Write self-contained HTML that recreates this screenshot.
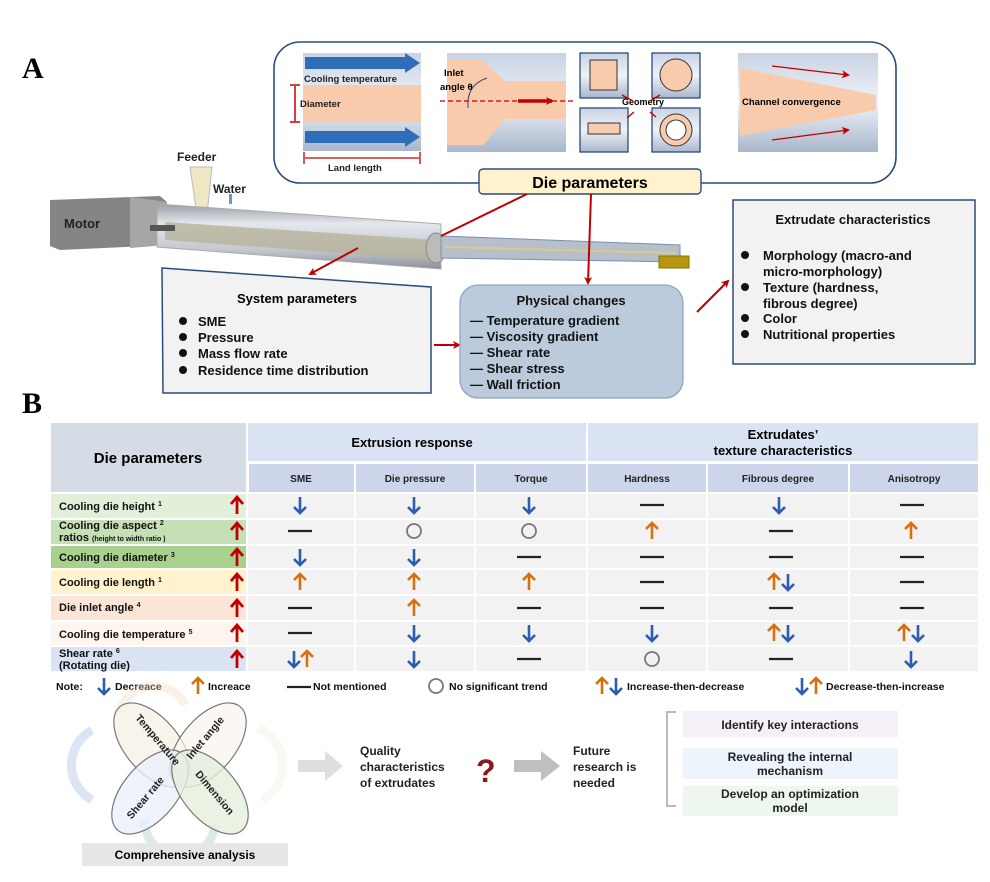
<!DOCTYPE html>
<html><head><meta charset="utf-8"><style>
body{margin:0;background:#fff}
svg{display:block;font-family:"Liberation Sans",sans-serif}
.b{font-weight:bold}
</style></head><body>
<svg width="990" height="882" viewBox="0 0 990 882" xmlns="http://www.w3.org/2000/svg">
<defs>
<linearGradient id="gp" x1="0" y1="0" x2="0" y2="1"><stop offset="0" stop-color="#c9d3e3"/><stop offset="0.5" stop-color="#eef2f8"/><stop offset="1" stop-color="#a9b7cc"/></linearGradient>
<linearGradient id="bar" x1="0" y1="0" x2="0" y2="1"><stop offset="0" stop-color="#9aa0a8"/><stop offset="0.3" stop-color="#e4e7ec"/><stop offset="0.7" stop-color="#c4c8cf"/><stop offset="1" stop-color="#8c9199"/></linearGradient>
<marker id="ar" markerWidth="8" markerHeight="8" refX="6" refY="4" orient="auto" markerUnits="userSpaceOnUse"><path d="M0,0 L8,4 L0,8 L2,4z" fill="#c00000"/></marker>
<g id="dn"><path d="M0,-8 V7 M-6,2 L0,8 L6,2" stroke="#2e5caf" stroke-width="2.6" fill="none"/></g>
<g id="up"><path d="M0,8 V-7 M-6,-2 L0,-8 L6,-2" stroke="#d5700f" stroke-width="2.6" fill="none"/></g>
<g id="ru"><path d="M0,9 V-7 M-6,-1 L0,-8 L6,-1" stroke="#c00000" stroke-width="2.8" fill="none"/></g>
<g id="ln"><path d="M-12,0 H12" stroke="#222" stroke-width="2.2"/></g>
<g id="ci"><circle r="7" fill="none" stroke="#777" stroke-width="1.8"/></g>
</defs>

<text x="22" y="78" font-family="Liberation Serif" font-size="30" font-weight="bold">A</text>

<rect x="274" y="42" width="622" height="141" rx="26" fill="#fff" stroke="#2f4a7a" stroke-width="1.6"/>
<rect x="303" y="53" width="118" height="98" fill="url(#gp)"/>
<rect x="303" y="85" width="118" height="37" fill="#f8cbad"/>
<path d="M305,57 H405 V53 L420,63 L405,73 V69 H305z" fill="#2e6db7"/>
<path d="M305,131 H405 V127 L420,137 L405,147 V143 H305z" fill="#2e6db7"/>
<text x="304" y="82" font-size="9.5" class="b" fill="#222">Cooling temperature</text>
<text x="300" y="107" font-size="9.5" class="b" fill="#222">Diameter</text>
<path d="M290,85 H300 M290,122 H300 M295,86 V121" stroke="#c00000" stroke-width="1.5"/>
<path d="M304,152 V164 M420,152 V164 M305,158 H419" stroke="#c00000" stroke-width="1.3"/>
<text x="328" y="171" font-size="9.5" class="b" fill="#222">Land length</text>
<rect x="447" y="53" width="119" height="99" fill="url(#gp)"/>
<path d="M447,60 H483 L505,81 H566 V119 H505 L483,145 H447z" fill="#f8cbad"/>
<path d="M487,78 Q466,85 468,108" stroke="#2f4a7a" fill="none" stroke-width="1"/>
<text x="444" y="76" font-size="9.5" class="b">Inlet</text>
<text x="440" y="90" font-size="9.5" class="b">angle θ</text>
<path d="M440,101 H575" stroke="#c00000" stroke-dasharray="5,3" stroke-width="1.2"/>
<path d="M518,101 H552" stroke="#c00000" stroke-width="3.5" marker-end="url(#ar)"/>
<rect x="580" y="53" width="48" height="45" fill="url(#gp)" stroke="#2f4a7a" stroke-width="1.3"/>
<rect x="590" y="60" width="27" height="30" fill="#f8cbad" stroke="#333"/>
<rect x="652" y="53" width="48" height="45" fill="url(#gp)" stroke="#2f4a7a" stroke-width="1.3"/>
<circle cx="676" cy="75" r="16" fill="#f8cbad" stroke="#333"/>
<rect x="580" y="108" width="48" height="44" fill="url(#gp)" stroke="#2f4a7a" stroke-width="1.3"/>
<rect x="588" y="123" width="32" height="11" fill="#f8cbad" stroke="#333"/>
<rect x="652" y="108" width="48" height="44" fill="url(#gp)" stroke="#2f4a7a" stroke-width="1.3"/>
<circle cx="676" cy="130" r="16" fill="#f8cbad" stroke="#333"/><circle cx="676" cy="130" r="10" fill="#fff" stroke="#333"/>
<text x="622" y="105" font-size="9" class="b">Geometry</text>
<path d="M622,95 L633,101 M660,95 L650,101 M627,118 L634,112 M656,117 L650,112" stroke="#c00000" stroke-width="1.4"/>
<rect x="738" y="53" width="140" height="99" fill="url(#gp)"/>
<path d="M740,68 L876,95 V110 L740,136z" fill="#f8cbad"/>
<text x="742" y="105" font-size="9.5" class="b">Channel convergence</text>
<path d="M772,66 L848,75" stroke="#c00000" stroke-width="1.3" marker-end="url(#ar)"/>
<path d="M772,140 L848,130" stroke="#c00000" stroke-width="1.3" marker-end="url(#ar)"/>
<rect x="479" y="169" width="222" height="25" rx="4" fill="#fff2cc" stroke="#2f4a7a" stroke-width="1.4"/>
<text x="590" y="188" font-size="16" class="b" text-anchor="middle">Die parameters</text>

<text x="177" y="161" font-size="12" class="b" fill="#222">Feeder</text>
<text x="213" y="193" font-size="12" class="b" fill="#222">Water</text>
<path d="M190,167 L212,167 L207,215 L197,215z" fill="#efe6c4" stroke="#bbb"/>
<rect x="229" y="194" width="3" height="10" fill="#6f96c9"/>
<path d="M50,200 L160,196 L167,202 V245 L60,250 L50,246z" fill="#858585"/>
<path d="M130,197 L167,202 V245 L130,248z" fill="#a6a6a6"/>
<text x="64" y="228" font-size="13" class="b" fill="#222">Motor</text>
<path d="M157,204 L441,224 L441,269 L157,247z" fill="url(#bar)" stroke="#aaa"/>
<path d="M165,222 L437,240 L437,260 L165,240z" fill="#b6b39b" opacity="0.8"/>
<path d="M150,228 H175" stroke="#555" stroke-width="6"/>
<ellipse cx="436" cy="248" rx="10" ry="15" fill="#bbb" stroke="#888"/>
<path d="M441,236 L680,245 L680,262 L441,258z" fill="#b7bfcb" stroke="#7d8fb0"/>
<path d="M445,247 L676,253" stroke="#d8cc88" stroke-width="2"/>
<rect x="659" y="256" width="30" height="12" fill="#b8960d" stroke="#8a7000"/>

<path d="M527,194 L441,236" stroke="#c00000" stroke-width="2"/>
<path d="M358,248 L310,274" stroke="#c00000" stroke-width="2" marker-end="url(#ar)"/>
<path d="M591,194 L588,283" stroke="#c00000" stroke-width="2" marker-end="url(#ar)"/>
<path d="M434,345 L459,345" stroke="#c00000" stroke-width="2" marker-end="url(#ar)"/>
<path d="M697,312 L728,281" stroke="#c00000" stroke-width="2" marker-end="url(#ar)"/>

<path d="M162,268 L431,287 V393 H163z" fill="#f2f2f2" stroke="#2f4a7a" stroke-width="1.5"/>
<text x="297" y="303" font-size="13" class="b" text-anchor="middle">System parameters</text>
<g font-size="13" class="b" fill="#111">
<circle cx="183" cy="321" r="4"/><text x="198" y="326">SME</text>
<circle cx="183" cy="337" r="4"/><text x="198" y="342">Pressure</text>
<circle cx="183" cy="353" r="4"/><text x="198" y="358">Mass flow rate</text>
<circle cx="183" cy="370" r="4"/><text x="198" y="375">Residence time distribution</text>
</g>
<rect x="460" y="285" width="223" height="113" rx="18" fill="#bccbdc" stroke="#8fa4bf" stroke-width="1.3"/>
<g font-size="13" class="b" fill="#111">
<text x="571" y="305" text-anchor="middle">Physical changes</text>
<text x="470" y="325">— Temperature gradient</text>
<text x="470" y="341">— Viscosity gradient</text>
<text x="470" y="357">— Shear rate</text>
<text x="470" y="373">— Shear stress</text>
<text x="470" y="389">— Wall friction</text>
</g>
<rect x="733" y="200" width="242" height="164" fill="#f2f2f2" stroke="#2f4a7a" stroke-width="1.5"/>
<g font-size="13" class="b" fill="#111">
<text x="853" y="224" text-anchor="middle">Extrudate characteristics</text>
<circle cx="745" cy="255" r="4"/><text x="763" y="260">Morphology (macro-and</text>
<text x="763" y="276">micro-morphology)</text>
<circle cx="745" cy="287" r="4"/><text x="763" y="292">Texture (hardness,</text>
<text x="763" y="308">fibrous degree)</text>
<circle cx="745" cy="318" r="4"/><text x="763" y="323">Color</text>
<circle cx="745" cy="334" r="4"/><text x="763" y="339">Nutritional properties</text>
</g>

<text x="22" y="413" font-family="Liberation Serif" font-size="30" font-weight="bold">B</text>

<rect x="51" y="423" width="195" height="69" fill="#d6dce5"/>
<text x="148" y="463" font-size="15" class="b" text-anchor="middle">Die parameters</text>
<rect x="248" y="423" width="338" height="38" fill="#dae3f3"/>
<rect x="588" y="423" width="390" height="38" fill="#dae3f3"/>
<text x="412" y="447" font-size="13" class="b" text-anchor="middle">Extrusion response</text>
<text x="783" y="439" font-size="13" class="b" text-anchor="middle">Extrudates’</text>
<text x="783" y="455" font-size="13" class="b" text-anchor="middle">texture characteristics</text>
<g fill="#cdd5ea">
<rect x="249" y="464" width="105" height="28"/><rect x="356" y="464" width="118" height="28"/><rect x="476" y="464" width="110" height="28"/>
<rect x="588" y="464" width="118" height="28"/><rect x="708" y="464" width="140" height="28"/><rect x="850" y="464" width="128" height="28"/>
</g>
<g font-size="10" class="b" text-anchor="middle" fill="#222">
<text x="301" y="482">SME</text><text x="415" y="482">Die pressure</text><text x="531" y="482">Torque</text>
<text x="647" y="482">Hardness</text><text x="778" y="482">Fibrous degree</text><text x="914" y="482">Anisotropy</text>
</g>
<g>
<rect x="51" y="494" width="195" height="24" fill="#e2f0d9"/>
<rect x="51" y="520" width="195" height="24" fill="#c5e0b4"/>
<rect x="51" y="546" width="195" height="22" fill="#a9d18e"/>
<rect x="51" y="570" width="195" height="24" fill="#fff2cc"/>
<rect x="51" y="596" width="195" height="24" fill="#fbe5d6"/>
<rect x="51" y="622" width="195" height="23" fill="#fdf5ee"/>
<rect x="51" y="647" width="195" height="24" fill="#dae3f3"/>
</g>
<g fill="#f2f2f2">
<rect x="248" y="494" width="730" height="24"/><rect x="248" y="520" width="730" height="24"/>
<rect x="248" y="546" width="730" height="22"/><rect x="248" y="570" width="730" height="24"/>
<rect x="248" y="596" width="730" height="24"/><rect x="248" y="622" width="730" height="23"/>
<rect x="248" y="647" width="730" height="24"/>
</g>
<g stroke="#fff" stroke-width="2">
<path d="M355,494 V671 M475,494 V671 M587,494 V671 M707,494 V671 M849,494 V671"/>
</g>
<g font-size="11" class="b" fill="#111">
<text x="59" y="510">Cooling die height <tspan font-size="7" dy="-4">1</tspan></text>
<text x="59" y="529">Cooling die aspect <tspan font-size="7" dy="-4">2</tspan></text>
<text x="59" y="541">ratios <tspan font-size="7">(height to width ratio )</tspan></text>
<text x="59" y="561">Cooling die diameter <tspan font-size="7" dy="-4">3</tspan></text>
<text x="59" y="586">Cooling die length <tspan font-size="7" dy="-4">1</tspan></text>
<text x="59" y="611">Die inlet angle <tspan font-size="7" dy="-4">4</tspan></text>
<text x="59" y="638">Cooling die temperature <tspan font-size="7" dy="-4">5</tspan></text>
<text x="59" y="657">Shear rate <tspan font-size="7" dy="-4">6</tspan></text>
<text x="59" y="669">(Rotating die)</text>
</g>
<g>
<use href="#ru" x="237" y="505"/><use href="#ru" x="237" y="531"/><use href="#ru" x="237" y="557"/>
<use href="#ru" x="237" y="582"/><use href="#ru" x="237" y="608"/><use href="#ru" x="237" y="633"/><use href="#ru" x="237" y="659"/>
</g>
<g>
<use href="#dn" x="300" y="505"/><use href="#dn" x="414" y="505"/><use href="#dn" x="529" y="505"/><use href="#ln" x="652" y="505"/><use href="#dn" x="779" y="505"/><use href="#ln" x="912" y="505"/>
<use href="#ln" x="300" y="531"/><use href="#ci" x="414" y="531"/><use href="#ci" x="529" y="531"/><use href="#up" x="652" y="531"/><use href="#ln" x="781" y="531"/><use href="#up" x="911" y="531"/>
<use href="#dn" x="300" y="557"/><use href="#dn" x="414" y="557"/><use href="#ln" x="529" y="557"/><use href="#ln" x="652" y="557"/><use href="#ln" x="781" y="557"/><use href="#ln" x="912" y="557"/>
<use href="#up" x="300" y="582"/><use href="#up" x="414" y="582"/><use href="#up" x="529" y="582"/><use href="#ln" x="652" y="582"/><use href="#up" x="774" y="582"/><use href="#dn" x="788" y="582"/><use href="#ln" x="912" y="582"/>
<use href="#ln" x="300" y="608"/><use href="#up" x="414" y="608"/><use href="#ln" x="529" y="608"/><use href="#ln" x="652" y="608"/><use href="#ln" x="781" y="608"/><use href="#ln" x="912" y="608"/>
<use href="#ln" x="300" y="633"/><use href="#dn" x="414" y="633"/><use href="#dn" x="529" y="633"/><use href="#dn" x="652" y="633"/><use href="#up" x="774" y="633"/><use href="#dn" x="788" y="633"/><use href="#up" x="904" y="633"/><use href="#dn" x="918" y="633"/>
<use href="#dn" x="294" y="659"/><use href="#up" x="307" y="659"/><use href="#dn" x="414" y="659"/><use href="#ln" x="529" y="659"/><use href="#ci" x="652" y="659"/><use href="#ln" x="781" y="659"/><use href="#dn" x="911" y="659"/>
</g>
<g font-size="10.5" class="b" fill="#111">
<text x="56" y="690">Note:</text>
<use href="#dn" x="104" y="686"/><text x="115" y="690">Decreace</text>
<use href="#up" x="198" y="686"/><text x="208" y="690">Increace</text>
<use href="#ln" x="299" y="687"/><text x="313" y="690">Not mentioned</text>
<use href="#ci" x="436" y="686"/><text x="449" y="690">No significant trend</text>
<use href="#up" x="602" y="686"/><use href="#dn" x="616" y="686"/><text x="627" y="690">Increase-then-decrease</text>
<use href="#dn" x="802" y="686"/><use href="#up" x="816" y="686"/><text x="826" y="690">Decrease-then-increase</text>
</g>

<g fill="none" stroke-width="9" opacity="0.35">
<path d="M120,712 A35,35 0 0 1 185,705" stroke="#f3d9c3"/>
<path d="M92,800 A40,40 0 0 1 92,730" stroke="#9fb3e0"/>
<path d="M145,818 A35,35 0 0 0 215,825" stroke="#9fc5c0"/>
<path d="M258,728 A40,40 0 0 1 262,800" stroke="#e9eddb"/>
</g>
<g stroke="#777" stroke-width="1.2">
<ellipse cx="152" cy="745" rx="27" ry="50" transform="rotate(-40 152 745)" fill="#f8f1e6" fill-opacity="0.8"/>
<ellipse cx="208" cy="745" rx="27" ry="50" transform="rotate(40 208 745)" fill="#faf5ee" fill-opacity="0.7"/>
<ellipse cx="150" cy="792" rx="27" ry="50" transform="rotate(40 150 792)" fill="#eaf0fb" fill-opacity="0.8"/>
<ellipse cx="210" cy="792" rx="27" ry="50" transform="rotate(-40 210 792)" fill="#e4efdc" fill-opacity="0.8"/>
</g>
<g font-size="10.5" class="b" fill="#222" text-anchor="middle">
<text transform="translate(155,742) rotate(50)">Temperature</text>
<text transform="translate(208,740) rotate(-50)">Inlet angle</text>
<text transform="translate(148,800) rotate(-50)">Shear rate</text>
<text transform="translate(212,795) rotate(50)">Dimension</text>
</g>
<rect x="82" y="843" width="206" height="23" fill="#e6e6e6"/>
<text x="185" y="859" font-size="12" class="b" text-anchor="middle">Comprehensive analysis</text>
<path d="M298,760 H325 V751 L343,766 L325,781 V772 H298z" fill="#dedede"/>
<path d="M514,760 H541 V751 L560,766 L541,781 V772 H514z" fill="#bfbfbf"/>
<g font-size="12" class="b" fill="#222">
<text x="360" y="755">Quality</text><text x="360" y="771">characteristics</text><text x="360" y="787">of extrudates</text>
<text x="573" y="755">Future</text><text x="573" y="771">research is</text><text x="573" y="787">needed</text>
</g>
<text x="476" y="782" font-size="32" class="b" fill="#8b1a1a">?</text>
<path d="M676,712 H667 V806 H676" fill="none" stroke="#bbb" stroke-width="2"/>
<rect x="683" y="711" width="215" height="26" fill="#f5f0f8"/>
<rect x="683" y="748" width="215" height="31" fill="#eef4fb"/>
<rect x="683" y="786" width="215" height="30" fill="#eef7ee"/>
<g font-size="12" class="b" fill="#222" text-anchor="middle">
<text x="790" y="729">Identify key interactions</text>
<text x="790" y="761">Revealing the internal</text><text x="790" y="775">mechanism</text>
<text x="790" y="798">Develop an optimization</text><text x="790" y="812">model</text>
</g>
</svg>
</body></html>
